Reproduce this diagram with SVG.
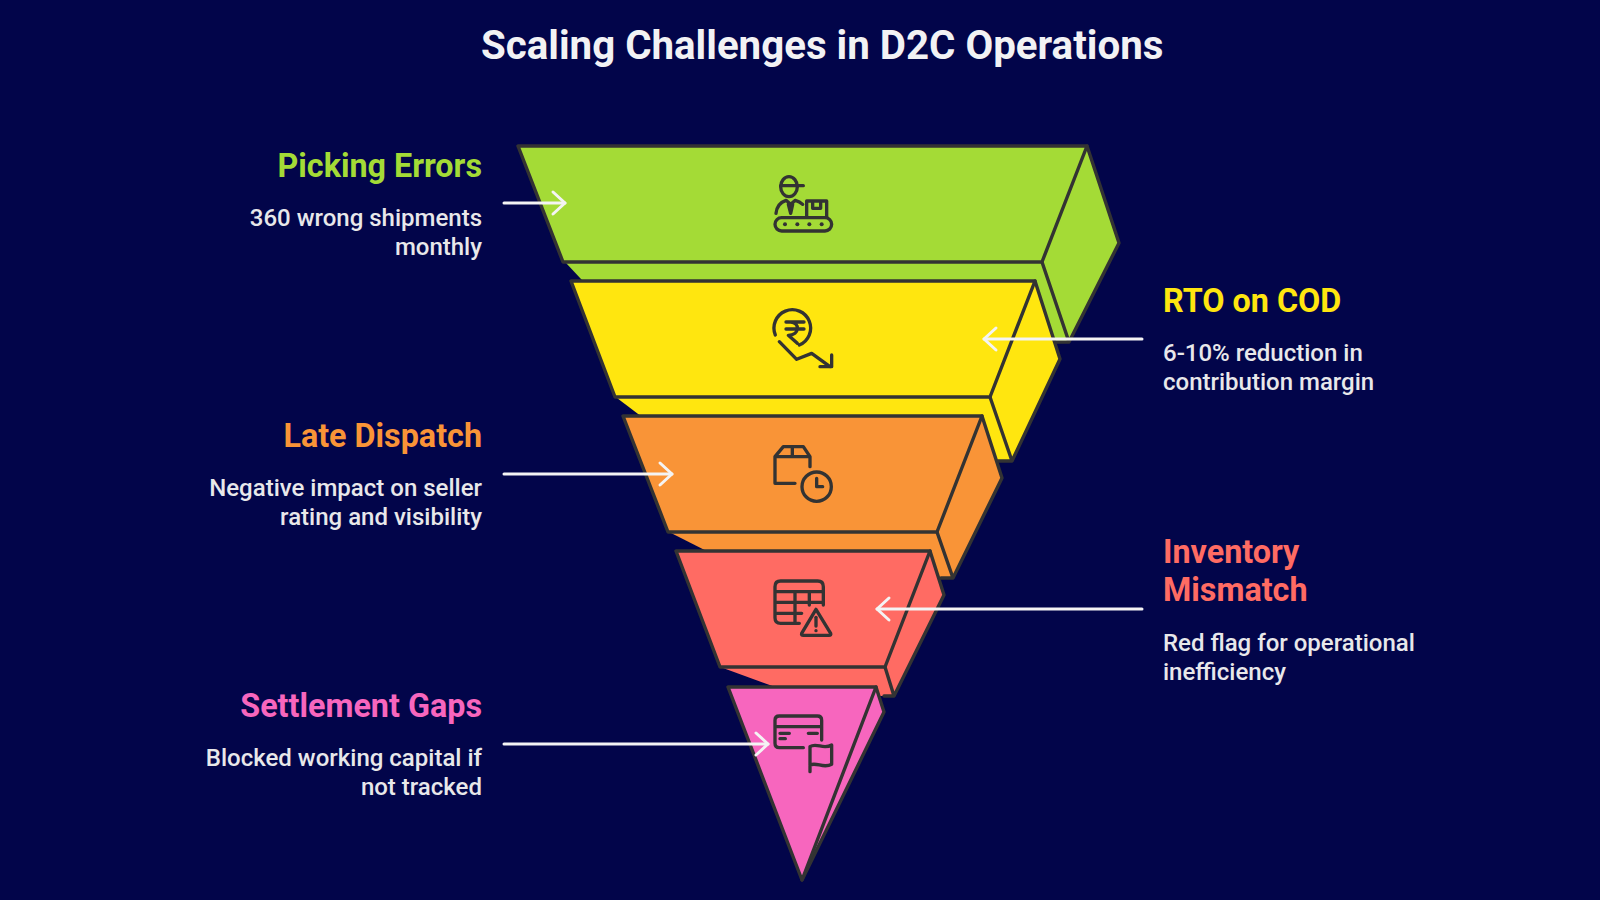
<svg xmlns="http://www.w3.org/2000/svg" width="1600" height="900" viewBox="0 0 1600 900">
<style>
text{font-family:Roboto,"Liberation Sans",sans-serif}
.title{font-size:40.25px;font-weight:700;fill:#f2f2f4}
.h{font-size:32.3px;font-weight:700}
.b{font-size:24px;font-weight:500;fill:#e8e8ea}
.l{text-anchor:end}
.e{fill:none;stroke:#333;stroke-width:3.4;stroke-linejoin:round;stroke-linecap:round}
.i{fill:none;stroke:#333;stroke-width:10;stroke-linecap:round;stroke-linejoin:round}
.d{fill:#333}
.c{fill:none;stroke:#f4f4f4;stroke-width:3;stroke-linecap:round}
.g{fill:#a4db36}.y{fill:#ffe60f}.o{fill:#f99437}.r{fill:#ff6b63}.p{fill:#f766be}
</style>
<defs>
<marker id="a" viewBox="-15 -15 30 30" markerWidth="30" markerHeight="30" markerUnits="userSpaceOnUse" refX="0" refY="0" orient="auto">
<path d="M-12-11 0 0-12 11" fill="none" stroke="#f4f4f4" stroke-width="3" stroke-linecap="round" stroke-linejoin="round"/>
</marker>
</defs>
<rect width="1600" height="900" fill="#02054a"/>
<text class="title" x="481" y="58.5">Scaling Challenges in D2C Operations</text>

<g id="node-picking-errors">
<path class="g" d="M518 146H1087L1119 243 1069 342H640L566 263Z"/>
<path class="e" d="M1087 146 1119 243 1069 342H1054M1042 262 1069 342"/>
<path class="e g" d="M518 146H1087L1042 262H563Z"/>
<g transform="translate(760 165) scale(.3333)">
<ellipse class="i" cx="87" cy="65" rx="25" ry="30"/>
<path class="i" d="M62 62H130M48 145C50 125 60 112 78 106L92 118 106 106C114 108 122 112 128 118M85 118 92 145 98 118"/>
<path class="i" d="M140 155V108H200V155M158 108V130H182V108"/>
<rect class="i" x="45" y="158" width="170" height="40" rx="20"/>
<circle class="d" cx="75" cy="178" r="6"/><circle class="d" cx="112" cy="178" r="6"/><circle class="d" cx="148" cy="178" r="6"/><circle class="d" cx="185" cy="178" r="6"/>
</g>
<text class="h l" fill="#a4db36" x="482" y="177">Picking Errors</text>
<text class="b l" x="482" y="226">360 wrong shipments</text>
<text class="b l" x="482" y="255">monthly</text>
</g>

<g id="node-rto-on-cod">
<path class="y" d="M570 281H1035L1060 359 1012 461H700L617 398Z"/>
<path class="e" d="M1035 281 1060 359 1012 461H998M990 397 1012 461"/>
<path class="e y" d="M571 281H1035L990 397H615Z"/>
<g transform="translate(760 300) scale(.3333)">
<path class="i" d="M46 105A55 55 0 1 1 118 135"/>
<path class="i" d="M78 66H132M78 87H132M92 66C120 66 120 106 85 106L112 130"/>
<path class="i" d="M58 125 110 178 155 160 210 200M215 165V200H180"/>
</g>
<text class="h" fill="#ffe60f" x="1163" y="312">RTO on COD</text>
<text class="b" x="1163" y="361">6-10% reduction in</text>
<text class="b" x="1163" y="390">contribution margin</text>
</g>

<g id="node-late-dispatch">
<path class="o" d="M623 416H982L1002 478 953 578H760L671 533Z"/>
<path class="e" d="M982 416 1002 478 953 578H941M937 532 953 578"/>
<path class="e o" d="M623 416H982L937 532H668Z"/>
<g transform="translate(760 435) scale(.3333)">
<path class="i" d="M105 145H45V65L70 35H130L150 65V95M45 65H150M97 35V65"/>
<circle class="i" cx="170" cy="155" r="44"/>
<path class="i" d="M170 130V155H188"/>
</g>
<text class="h l" fill="#f99437" x="482" y="447">Late Dispatch</text>
<text class="b l" x="482" y="496">Negative impact on seller</text>
<text class="b l" x="482" y="525">rating and visibility</text>
</g>

<g id="node-inventory-mismatch">
<path class="r" d="M676 551H930L944 595 894 696H800L723 668Z"/>
<path class="e" d="M930 551 944 595 894 696H884M885 667 894 696"/>
<path class="e r" d="M676 551H930L885 667H720Z"/>
<g transform="translate(760 570) scale(.3333)">
<path class="i" d="M118 160H62Q45 160 45 143V50Q45 33 62 33H173Q190 33 190 50V105M45 65H190M45 97H190M45 130H125M105 65V160M148 65V105"/>
<path class="i" d="M168 118 212 190Q214 196 207 196H130Q123 196 125 190Z"/>
<path class="i" d="M168 142V168"/><circle class="d" cx="168" cy="182" r="5"/>
</g>
<text class="h" fill="#ff6b63" x="1163" y="563">Inventory</text>
<text class="h" fill="#ff6b63" x="1163" y="601">Mismatch</text>
<text class="b" x="1163" y="651">Red flag for operational</text>
<text class="b" x="1163" y="680">inefficiency</text>
</g>

<g id="node-settlement-gaps">
<path class="p" d="M876 687 884 712 802 880Z"/>
<path class="e" d="M876 687 884 712 802 880"/>
<path class="e p" d="M728 687H876L802 880Z"/>
<g transform="translate(760 705) scale(.3333)">
<path class="i" d="M130 128H58Q45 128 45 115V46Q45 33 58 33H172Q185 33 185 46V105M45 65H185M60 85H88M60 101H76M145 85H172"/>
<path class="i" d="M150 200V125C170 112 190 135 215 120V178C190 192 170 170 150 180"/>
</g>
<text class="h l" fill="#f766be" x="482" y="717">Settlement Gaps</text>
<text class="b l" x="482" y="766">Blocked working capital if</text>
<text class="b l" x="482" y="795">not tracked</text>
</g>

<g id="connectors">
<path class="c" d="M504 203H565" marker-end="url(#a)"/>
<path class="c" d="M1142 339H984" marker-end="url(#a)"/>
<path class="c" d="M504 474H672" marker-end="url(#a)"/>
<path class="c" d="M1142 609H877" marker-end="url(#a)"/>
<path class="c" d="M504 744H768" marker-end="url(#a)"/>
</g>
</svg>
